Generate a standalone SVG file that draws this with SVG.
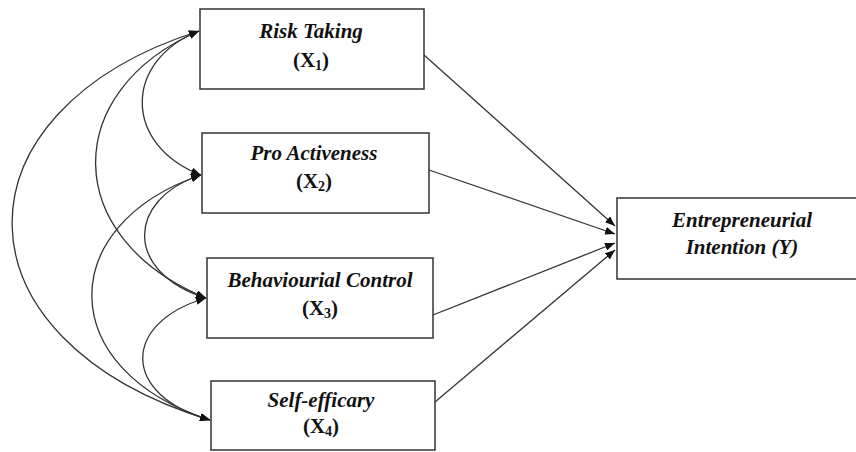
<svg xmlns="http://www.w3.org/2000/svg" width="856" height="452" viewBox="0 0 856 452">
<style>
.box{fill:#fff;stroke:#333;stroke-width:1.5}
.lbl{font-family:"Liberation Serif","Times New Roman",serif;font-size:21px;font-weight:bold;fill:#111;text-anchor:middle}
.it{font-style:italic}
.c{fill:none;stroke:#333;stroke-width:1.3}
</style>
<defs>
<marker id="ah" viewBox="0 0 10 8" refX="10" refY="4" markerWidth="10" markerHeight="8" markerUnits="userSpaceOnUse" orient="auto-start-reverse">
<path d="M0,0 L10,4 L0,8 Z" fill="#111"/>
</marker>
</defs>
<g id="n1">
<rect class="box" x="200" y="9" width="224" height="80"/>
<text class="lbl it" x="311" y="38">Risk Taking</text>
<text class="lbl" x="311" y="67">(X<tspan font-size="14" dy="3">1</tspan><tspan dy="-3">)</tspan></text>
</g>
<g id="n2">
<rect class="box" x="202" y="133" width="227" height="80"/>
<text class="lbl it" x="314" y="160">Pro Activeness</text>
<text class="lbl" x="314" y="188">(X<tspan font-size="14" dy="3">2</tspan><tspan dy="-3">)</tspan></text>
</g>
<g id="n3">
<rect class="box" x="207" y="258" width="226" height="80"/>
<text class="lbl it" x="320" y="287">Behaviourial Control</text>
<text class="lbl" x="320" y="315">(X<tspan font-size="14" dy="3">3</tspan><tspan dy="-3">)</tspan></text>
</g>
<g id="n4">
<rect class="box" x="211" y="381" width="224" height="69"/>
<text class="lbl it" x="321" y="407">Self-efficary</text>
<text class="lbl" x="321" y="433">(X<tspan font-size="14" dy="3">4</tspan><tspan dy="-3">)</tspan></text>
</g>
<g id="ny">
<rect class="box" x="617" y="198" width="250" height="81"/>
<text class="lbl it" x="742" y="227">Entrepreneurial</text>
<text class="lbl it" x="742" y="254">Intention (Y)</text>
</g>
<g id="connectors">
<line class="c" x1="424" y1="55" x2="615" y2="226" marker-end="url(#ah)"/>
<line class="c" x1="429" y1="170" x2="615" y2="234" marker-end="url(#ah)"/>
<line class="c" x1="433" y1="315" x2="615" y2="243" marker-end="url(#ah)"/>
<line class="c" x1="435" y1="402" x2="615" y2="250" marker-end="url(#ah)"/>
<path class="c" d="M199,31 C123,61 123,145 201,175" marker-start="url(#ah)" marker-end="url(#ah)"/>
<path class="c" d="M199,31 C60,91 60,238 206,298" marker-start="url(#ah)" marker-end="url(#ah)"/>
<path class="c" d="M199,31 C-52,111 -52,340 210,420" marker-start="url(#ah)" marker-end="url(#ah)"/>
<path class="c" d="M201,175 C125,200 125,273 206,298" marker-start="url(#ah)" marker-end="url(#ah)"/>
<path class="c" d="M201,175 C54,225 54,370 210,420" marker-start="url(#ah)" marker-end="url(#ah)"/>
<path class="c" d="M206,298 C121,323 121,395 210,420" marker-start="url(#ah)" marker-end="url(#ah)"/>
</g>
</svg>
